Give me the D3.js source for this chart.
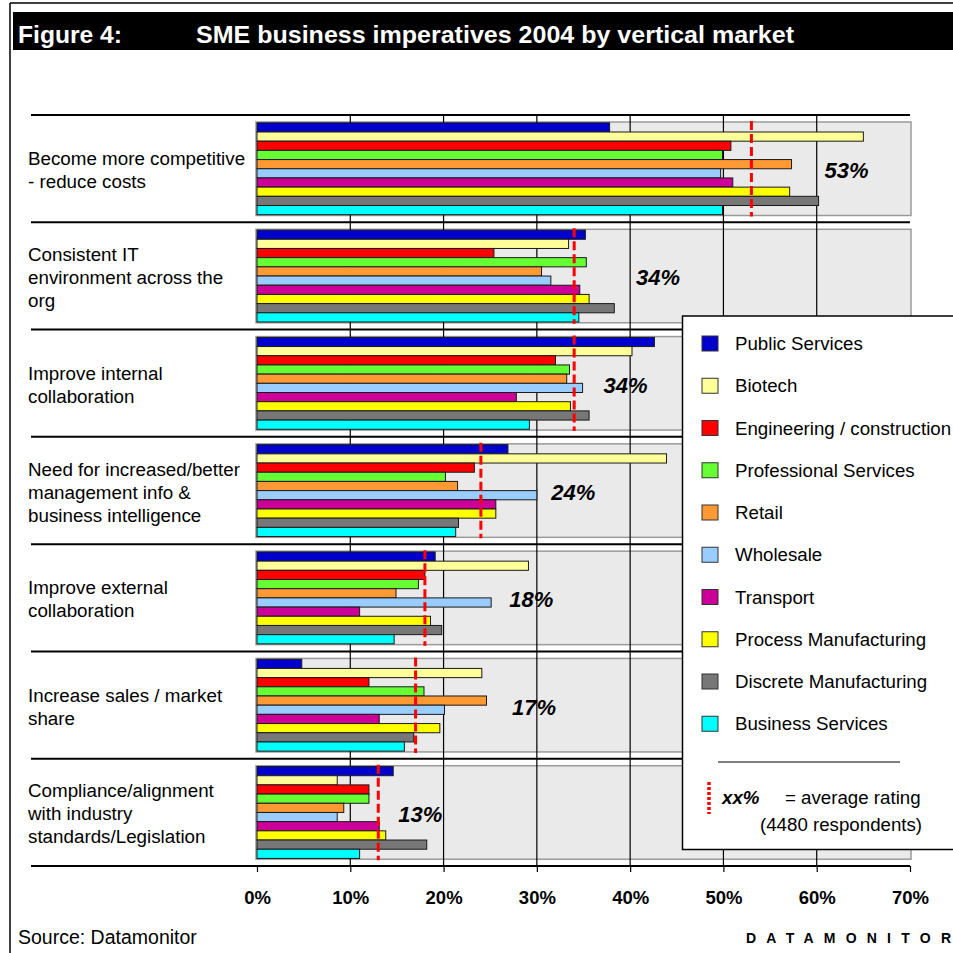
<!DOCTYPE html>
<html>
<head>
<meta charset="utf-8">
<script src="https://cdn.jsdelivr.net/npm/d3@7"></script>
<style>
  body { margin: 0; background: #fff; }
  svg { display: block; font-family: "Liberation Sans", Arial, sans-serif; }
</style>
</head>
<body>
<svg id="chart" width="953" height="953"></svg>
<script>
// ---- data -------------------------------------------------------------
const imperatives = [
  ["Become more competitive", "- reduce costs"],
  ["Consistent IT", "environment across the", "org"],
  ["Improve internal", "collaboration"],
  ["Need for increased/better", "management info &", "business intelligence"],
  ["Improve external", "collaboration"],
  ["Increase sales / market", "share"],
  ["Compliance/alignment", "with industry", "standards/Legislation"]
];

const markets = [
  "Public Services", "Biotech", "Engineering / construction", "Professional Services",
  "Retail", "Wholesale", "Transport", "Process Manufacturing",
  "Discrete Manufacturing", "Business Services"
];

// % of SMEs naming each imperative, one array per vertical market
const publicServices        = [37.8, 35.2, 42.6, 26.9, 19.1,  4.8, 14.6];
const biotech               = [65.0, 33.4, 40.2, 43.9, 29.1, 24.1,  8.6];
const engineering           = [50.8, 25.4, 32.0, 23.3, 18.0, 12.0, 12.0];
const professionalServices  = [49.9, 35.3, 33.5, 20.2, 17.3, 17.9, 12.0];
const retail                = [57.3, 30.5, 33.2, 21.5, 14.9, 24.6,  9.3];
const wholesale             = [49.7, 31.5, 34.9, 30.0, 25.1, 20.1,  8.6];
const transport             = [51.0, 34.6, 27.8, 25.6, 11.0, 13.1, 13.1];
const processManufacturing  = [57.1, 35.6, 33.6, 25.6, 18.6, 19.6, 13.8];
const discreteManufacturing = [60.2, 38.3, 35.6, 21.6, 19.8, 16.8, 18.2];
const businessServices      = [49.9, 34.5, 29.2, 21.3, 14.7, 15.8, 11.0];

// average rating across all 4480 respondents
const averageRating = [53, 34, 34, 24, 18, 17, 13];

const xTicks = [0, 10, 20, 30, 40, 50, 60, 70];

// ---- styling / layout -------------------------------------------------
const seriesValues = [
  publicServices, biotech, engineering, professionalServices, retail,
  wholesale, transport, processManufacturing, discreteManufacturing, businessServices
];
const marketColors = [
  "#0000cc", "#ffff99", "#ff0000", "#66ff33", "#ff9933",
  "#99ccff", "#cc0099", "#ffff00", "#777777", "#00ffff"
];
// where each average label sits, in axis units
const avgLabelAt = [63.2, 43.0, 39.5, 33.9, 29.4, 29.7, 17.5];

const svg = d3.select("#chart");

const x = d3.scaleLinear().domain([0, 70]).range([257, 910]);
const band = d3.scaleBand().domain(d3.range(imperatives.length)).range([115, 866]);
const boxTop = 7, boxH = 93.5;
const barY = d3.scaleBand().domain(d3.range(markets.length)).range([0.8, boxH - 0.8]);

// frame + title bar
svg.append("line").attr("x1", 10).attr("x2", 953).attr("y1", 3).attr("y2", 3)
  .attr("stroke", "#000").attr("stroke-width", 1.5);
svg.append("line").attr("x1", 10).attr("x2", 10).attr("y1", 3).attr("y2", 953)
  .attr("stroke", "#000").attr("stroke-width", 1.5);
svg.append("rect").attr("x", 13).attr("y", 12).attr("width", 940).attr("height", 38).attr("fill", "#000");
svg.append("text").attr("x", 18).attr("y", 42.5).attr("fill", "#fff")
  .attr("font-size", 24).attr("font-weight", "bold")
  .attr("textLength", 104).attr("lengthAdjust", "spacingAndGlyphs")
  .text("Figure 4:");
svg.append("text").attr("x", 196).attr("y", 42.5).attr("fill", "#fff")
  .attr("font-size", 24).attr("font-weight", "bold")
  .attr("textLength", 598).attr("lengthAdjust", "spacingAndGlyphs")
  .text("SME business imperatives 2004 by vertical market");

// shaded plot box per imperative
const groups = svg.append("g").selectAll("g").data(imperatives).join("g")
  .attr("transform", (d, i) => `translate(0,${band(i)})`);

groups.append("rect")
  .attr("x", x(0) - 1).attr("y", boxTop)
  .attr("width", x(70) - x(0) + 2).attr("height", boxH)
  .attr("fill", "#eaeaea").attr("stroke", "#9a9a9a").attr("stroke-width", 1.5);

// separators between imperatives
svg.append("g").selectAll("line").data(d3.range(imperatives.length + 1)).join("line")
  .attr("x1", 31).attr("x2", x(70))
  .attr("y1", i => i < imperatives.length ? band(i) : band.range()[1])
  .attr("y2", i => i < imperatives.length ? band(i) : band.range()[1])
  .attr("stroke", "#000").attr("stroke-width", 2);

// vertical gridlines
svg.append("g").selectAll("line").data(xTicks.slice(1, -1)).join("line")
  .attr("x1", d => x(d)).attr("x2", d => x(d))
  .attr("y1", band.range()[0]).attr("y2", band.range()[1])
  .attr("stroke", "#000").attr("stroke-width", 1.2);

// bars
const barsG = svg.append("g");
imperatives.forEach((imp, i) => {
  barsG.append("g")
    .attr("transform", `translate(0,${band(i) + boxTop})`)
    .selectAll("rect").data(markets).join("rect")
    .attr("x", x(0))
    .attr("y", (m, k) => barY(k))
    .attr("width", (m, k) => x(seriesValues[k][i]) - x(0))
    .attr("height", barY.bandwidth())
    .attr("fill", (m, k) => marketColors[k])
    .attr("stroke", "#1a1a1a").attr("stroke-width", 1);
});

// average rating markers
svg.append("g").selectAll("line").data(averageRating).join("line")
  .attr("x1", d => x(d)).attr("x2", d => x(d))
  .attr("y1", (d, i) => band(i) + boxTop - 1)
  .attr("y2", (d, i) => band(i) + boxTop + boxH + 1)
  .attr("stroke", "#ff0000").attr("stroke-width", 3).attr("stroke-dasharray", "9,4");

// legend panel
const legend = svg.append("g");
legend.append("rect").attr("x", 682.5).attr("y", 316).attr("width", 290).attr("height", 533.5)
  .attr("fill", "#fff").attr("stroke", "#000").attr("stroke-width", 1.5);
const item = legend.selectAll("g.item").data(markets).join("g").attr("class", "item")
  .attr("transform", (d, k) => `translate(702,${336 + k * 42.25})`);
item.append("rect").attr("width", 16).attr("height", 15)
  .attr("fill", (d, k) => marketColors[k]).attr("stroke", "#333").attr("stroke-width", 1);
item.append("text").attr("x", 33).attr("y", 14).attr("font-size", 18.7).attr("fill", "#000").text(d => d);
legend.append("line").attr("x1", 718).attr("x2", 900).attr("y1", 762).attr("y2", 762)
  .attr("stroke", "#000").attr("stroke-width", 1);
legend.append("line").attr("x1", 709).attr("x2", 709).attr("y1", 782).attr("y2", 814)
  .attr("stroke", "#ff0000").attr("stroke-width", 3.5).attr("stroke-dasharray", "3,2");
legend.append("text").attr("x", 722).attr("y", 804).attr("font-size", 18.7)
  .attr("font-weight", "bold").attr("font-style", "italic").text("xx%");
legend.append("text").attr("x", 785).attr("y", 804).attr("font-size", 18.7).text("= average rating");
legend.append("text").attr("x", 760).attr("y", 831).attr("font-size", 18.7).text("(4480 respondents)");

// average rating labels
svg.append("g").selectAll("text").data(averageRating).join("text")
  .attr("x", (d, i) => x(avgLabelAt[i]))
  .attr("y", (d, i) => band(i) + band.bandwidth() / 2 + 2)
  .attr("text-anchor", "middle").attr("dominant-baseline", "central")
  .attr("font-size", 22).attr("font-weight", "bold").attr("font-style", "italic")
  .text(d => d3.format(".0f")(d) + "%");

// imperative labels
const lineH = 23;
svg.append("g").selectAll("text").data(imperatives).join("text")
  .attr("font-size", 18.8).attr("fill", "#000")
  .each(function (lines, i) {
    const cy = band(i) + band.bandwidth() / 2 + 2;
    const y0 = cy - (lines.length - 1) * lineH / 2 + 6;
    d3.select(this).selectAll("tspan").data(lines).join("tspan")
      .attr("x", 28).attr("y", (l, j) => y0 + j * lineH).text(l => l);
  });

// x axis
const axis = svg.append("g").attr("transform", `translate(0,${band.range()[1]})`)
  .call(d3.axisBottom(x).tickValues(xTicks).tickFormat(d => d + "%").tickSize(6).tickPadding(19));
axis.select(".domain").remove();
axis.selectAll(".tick line").attr("stroke", "#000").attr("stroke-width", 1.2);
axis.selectAll(".tick text").attr("font-size", 18.5).attr("font-weight", "bold")
  .attr("font-family", "'Liberation Sans', Arial, sans-serif").attr("fill", "#000");

// footer
svg.append("text").attr("x", 18).attr("y", 944).attr("font-size", 19.5).text("Source: Datamonitor");
svg.append("text").attr("x", 746).attr("y", 943).attr("font-size", 14).attr("font-weight", "bold")
  .attr("textLength", 205).attr("lengthAdjust", "spacing").text("DATAMONITOR");
</script>
</body>
</html>
